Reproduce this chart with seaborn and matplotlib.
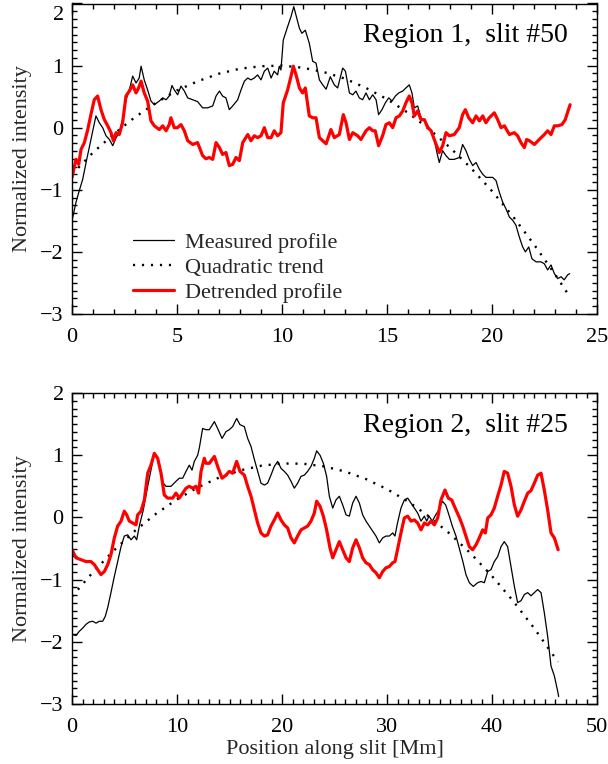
import numpy as np
import pandas as pd
import matplotlib
matplotlib.use("Agg")
import matplotlib.pyplot as plt
from matplotlib.ticker import MultipleLocator, FuncFormatter
from matplotlib.lines import Line2D
import seaborn as sns

# ---------------- data ----------------
# Region 1, slit #50
r1_meas_x = [0.0, 0.19, 0.35, 0.51, 0.67, 0.84, 1.0, 1.14, 1.3, 1.46, 1.62, 1.78, 1.94, 2.1, 2.25, 2.41, 2.57, 2.73,
             2.89, 3.05, 3.2, 3.29, 3.44, 3.6, 3.76, 3.92, 4.16, 4.32, 4.48, 4.63, 4.76, 4.87, 5.03, 5.19, 5.35, 5.51,
             5.75, 5.98, 6.22, 6.46, 6.7, 6.86, 7.02, 7.17, 7.33, 7.49, 7.65, 7.89, 8.05, 8.21, 8.37, 8.52, 8.68, 8.84,
             9.0, 9.16, 9.32, 9.48, 9.63, 9.79, 9.87, 9.95, 10.06, 10.27, 10.43, 10.56, 10.67, 10.83, 10.95, 11.11,
             11.3, 11.46, 11.62, 11.78, 11.94, 12.1, 12.3, 12.49, 12.65, 12.89, 13.02, 13.21, 13.37, 13.52, 13.68,
             13.84, 14.0, 14.16, 14.32, 14.48, 14.6, 14.76, 14.92, 15.08, 15.24, 15.4, 15.56, 15.75, 15.9, 16.06,
             16.19, 16.3, 16.46, 16.62, 16.86, 17.1, 17.25, 17.41, 17.49, 17.65, 17.81, 17.97, 18.2, 18.44, 18.6,
             18.76, 18.92, 19.08, 19.24, 19.4, 19.56, 19.71, 19.87, 20.03, 20.19, 20.35, 20.51, 20.67, 20.83, 20.98,
             21.14, 21.3, 21.46, 21.59, 21.75, 21.9, 22.1, 22.33, 22.49, 22.65, 22.81, 22.97, 23.13, 23.29, 23.44,
             23.6, 23.7]
r1_meas_y = [-1.5, -1.2, -1.01, -0.83, -0.56, -0.29, -0.03, 0.19, 0.08, 0.0, -0.13, -0.19, -0.29, -0.16, -0.08, 0.13,
             0.45, 0.61, 0.83, 0.72, 0.8, 0.99, 0.77, 0.61, 0.43, 0.37, 0.43, 0.48, 0.45, 0.51, 0.68, 0.61, 0.53, 0.67,
             0.59, 0.48, 0.45, 0.42, 0.32, 0.32, 0.35, 0.51, 0.59, 0.51, 0.48, 0.29, 0.35, 0.45, 0.61, 0.75, 0.8, 0.77,
             0.8, 0.85, 0.77, 0.91, 0.96, 0.8, 0.91, 0.85, 0.99, 0.93, 1.41, 1.63, 1.79, 1.95, 1.81, 1.6, 1.52, 1.57,
             1.36, 1.07, 1.04, 0.77, 0.69, 0.62, 0.82, 0.69, 0.64, 0.96, 0.91, 0.56, 0.53, 0.59, 0.48, 0.45, 0.56,
             0.45, 0.53, 0.45, 0.21, 0.29, 0.4, 0.48, 0.43, 0.51, 0.56, 0.59, 0.64, 0.69, 0.56, 0.32, 0.35, 0.16,
             0.08, -0.05, -0.19, -0.45, -0.56, -0.37, -0.45, -0.51, -0.51, -0.48, -0.27, -0.37, -0.51, -0.61, -0.56,
             -0.67, -0.75, -0.8, -0.8, -0.8, -0.85, -1.04, -1.2, -1.31, -1.44, -1.49, -1.57, -1.76, -1.92, -2.0,
             -1.92, -2.11, -2.16, -2.16, -2.19, -2.29, -2.21, -2.35, -2.43, -2.4, -2.45, -2.37, -2.35]

r1_trend_x = [0, 1, 2, 3, 4, 5, 6, 7, 8, 9, 10, 11, 12, 13, 14, 15, 16, 17, 18, 19, 20, 21, 22, 23, 23.7]
r1_trend_y = [-0.75, -0.40, -0.10, 0.17, 0.40, 0.60, 0.75, 0.87, 0.95, 0.99, 1.0, 0.965, 0.895, 0.79, 0.64,
              0.46, 0.24, -0.02, -0.32, -0.65, -1.02, -1.43, -1.88, -2.36, -2.72]

r1_detr_x = [0.0, 0.19, 0.32, 0.43, 0.59, 0.75, 0.9, 1.06, 1.22, 1.38, 1.54, 1.7, 1.86, 1.97, 2.1, 2.25, 2.41, 2.57,
             2.73, 2.89, 3.05, 3.17, 3.29, 3.44, 3.6, 3.76, 3.92, 4.16, 4.32, 4.48, 4.63, 4.71, 4.87, 5.02, 5.19, 5.35,
             5.51, 5.75, 5.98, 6.22, 6.38, 6.54, 6.7, 6.86, 7.02, 7.17, 7.33, 7.49, 7.65, 7.81, 7.97, 8.13, 8.37,
             8.52, 8.68, 8.84, 9.0, 9.16, 9.32, 9.48, 9.63, 9.79, 9.95, 10.06, 10.27, 10.43, 10.54, 10.67, 10.83,
             10.98, 11.11, 11.3, 11.46, 11.62, 11.78, 11.94, 12.1, 12.33, 12.49, 12.73, 12.92, 13.05, 13.21, 13.37,
             13.6, 13.76, 14.0, 14.16, 14.32, 14.44, 14.6, 14.79, 14.95, 15.11, 15.27, 15.43, 15.59, 15.75, 15.9,
             16.06, 16.19, 16.3, 16.46, 16.62, 16.78, 16.94, 17.1, 17.25, 17.49, 17.65, 17.81, 17.97, 18.2, 18.44,
             18.6, 18.73, 18.89, 19.08, 19.24, 19.4, 19.56, 19.71, 19.87, 20.11, 20.27, 20.43, 20.59, 20.83, 21.06,
             21.22, 21.38, 21.54, 21.65, 21.78, 22.02, 22.25, 22.49, 22.65, 22.81, 22.97, 23.13, 23.33, 23.49,
             23.62, 23.72]
r1_detr_y = [-0.8, -0.51, -0.59, -0.35, -0.24, -0.03, 0.21, 0.45, 0.51, 0.29, 0.13, 0.03, -0.08, -0.21, -0.08,
             -0.11, 0.08, 0.51, 0.59, 0.69, 0.56, 0.64, 0.75, 0.56, 0.43, 0.11, 0.03, -0.03, 0.03, -0.05, 0.05, 0.16,
             0.0, 0.0, 0.05, -0.05, -0.21, -0.27, -0.24, -0.45, -0.5, -0.48, -0.51, -0.24, -0.32, -0.43, -0.4, -0.61,
             -0.59, -0.48, -0.53, -0.24, -0.11, -0.21, -0.13, -0.16, -0.13, 0.0, -0.16, -0.16, -0.05, -0.13, -0.08,
             0.4, 0.61, 0.83, 0.99, 0.85, 0.64, 0.56, 0.64, 0.19, 0.16, 0.16, -0.16, -0.21, -0.26, -0.03, -0.16,
             -0.11, 0.21, 0.08, -0.19, -0.08, -0.13, -0.19, -0.05, 0.0, -0.05, -0.05, -0.29, -0.13, 0.05, 0.08, 0.0,
             0.16, 0.19, 0.27, 0.4, 0.51, 0.4, 0.19, 0.27, 0.13, 0.13, 0.0, -0.05, -0.19, -0.4, -0.29, -0.08, -0.13,
             -0.11, 0.0, 0.21, 0.29, 0.16, 0.08, 0.19, 0.11, 0.19, 0.08, 0.16, 0.24, 0.13, 0.0, 0.03, -0.11, -0.08,
             -0.13, -0.24, -0.32, -0.19, -0.21, -0.27, -0.19, -0.11, -0.05, -0.11, 0.03, 0.03, 0.05, 0.13, 0.27,
             0.37]

# Region 2, slit #25
r2_meas_x = [0.0, 0.38, 0.7, 1.02, 1.33, 1.65, 1.97, 2.29, 2.6, 2.92, 3.17, 3.4, 3.71, 4.03, 4.35, 4.67, 4.98, 5.3,
             5.62, 5.94, 6.16, 6.41, 6.79, 7.21, 7.52, 7.84, 8.16, 8.48, 8.7, 8.95, 9.43, 9.9, 10.22, 10.54, 10.86,
             11.17, 11.43, 11.65, 11.97, 12.13, 12.44, 12.76, 13.08, 13.56, 13.87, 14.29, 14.67, 14.98, 15.3, 15.68,
             16.0, 16.41, 16.73, 17.05, 17.37, 17.68, 18.0, 18.32, 18.63, 18.95, 19.27, 19.59, 19.9, 20.22, 20.54,
             20.86, 21.17, 21.49, 21.81, 22.13, 22.44, 22.76, 23.08, 23.3, 23.62, 23.94, 24.25, 24.51, 24.83, 25.14,
             25.46, 25.78, 26.1, 26.41, 26.73, 27.05, 27.37, 27.68, 28.0, 28.32, 28.63, 28.95, 29.27, 29.59, 29.9,
             30.22, 30.54, 30.76, 31.0, 31.33, 31.65, 31.97, 32.29, 32.6, 32.92, 33.24, 33.56, 33.78, 34.0, 34.32,
             34.63, 34.95, 35.27, 35.59, 35.9, 36.22, 36.57, 36.89, 37.21, 37.52, 37.84, 38.22, 38.63, 38.95, 39.27,
             39.59, 39.9, 40.22, 40.54, 40.86, 41.17, 41.49, 41.81, 42.13, 42.44, 42.76, 43.08, 43.4, 43.71, 44.03,
             44.35, 44.67, 44.98, 45.3, 45.62, 45.94, 46.25, 46.35]
r2_meas_y = [-1.88, -1.9, -1.83, -1.78, -1.72, -1.68, -1.67, -1.7, -1.67, -1.67, -1.59, -1.45, -1.21, -0.95, -0.71,
             -0.47, -0.3, -0.28, -0.36, -0.3, -0.36, -0.14, 0.12, 0.5, 0.76, 1.03, 0.95, 0.71, 0.55, 0.5, 0.5, 0.58,
             0.63, 0.63, 0.74, 0.84, 0.76, 0.9, 1.0, 1.12, 1.43, 1.41, 1.41, 1.54, 1.43, 1.27, 1.38, 1.41, 1.46, 1.59,
             1.49, 1.46, 1.27, 1.14, 0.93, 0.74, 0.55, 0.52, 0.55, 0.68, 0.82, 0.9, 0.79, 0.74, 0.68, 0.58, 0.47,
             0.55, 0.66, 0.68, 0.74, 0.82, 0.95, 1.07, 1.0, 0.87, 0.66, 0.34, 0.15, 0.28, 0.34, 0.2, 0.04, 0.02,
             0.23, 0.34, 0.23, 0.04, -0.06, -0.14, -0.22, -0.3, -0.41, -0.33, -0.3, -0.3, -0.25, -0.3, -0.09, 0.15,
             0.28, 0.31, 0.23, 0.15, 0.07, -0.06, 0.02, -0.06, 0.02, -0.06, 0.04, 0.12, 0.26, 0.2, 0.04, -0.14, -0.3,
             -0.5, -0.7, -0.92, -1.05, -1.11, -1.05, -1.03, -1.05, -0.87, -0.84, -0.71, -0.63, -0.47, -0.39, -0.47,
             -0.79, -1.11, -1.37, -1.34, -1.24, -1.21, -1.26, -1.21, -1.16, -1.21, -1.53, -1.91, -2.39, -2.55, -2.79,
             -2.88]

r2_trend_x = [0, 2, 4, 6, 8, 10, 12, 14, 16, 18, 20, 22, 24, 26, 28, 30, 32, 34, 36, 38, 40, 42, 44, 46, 46.3]
r2_trend_y = [-1.27, -0.88, -0.53, -0.215, 0.058, 0.29, 0.485, 0.64, 0.755, 0.83, 0.867, 0.863, 0.82, 0.738,
              0.616, 0.455, 0.255, 0.015, -0.265, -0.584, -0.943, -1.341, -1.778, -2.255, -2.32]

r2_detr_x = [0.0, 0.38, 0.86, 1.33, 1.81, 2.13, 2.44, 2.76, 3.08, 3.4, 3.71, 4.03, 4.35, 4.67, 4.98, 5.21, 5.46,
             5.78, 6.1, 6.25, 6.57, 6.89, 7.21, 7.52, 7.84, 8.16, 8.48, 8.79, 9.11, 9.59, 9.9, 10.22, 10.54, 10.86,
             11.17, 11.49, 11.81, 12.06, 12.29, 12.6, 12.76, 13.08, 13.56, 13.87, 14.29, 14.67, 14.98, 15.3, 15.68,
             16.0, 16.41, 16.73, 17.05, 17.37, 17.68, 18.0, 18.32, 18.63, 18.95, 19.27, 19.59, 19.9, 20.22, 20.54,
             20.86, 21.17, 21.49, 21.81, 22.13, 22.44, 22.76, 23.08, 23.3, 23.62, 23.94, 24.25, 24.57, 24.83, 25.14,
             25.46, 25.78, 26.1, 26.41, 26.73, 27.05, 27.37, 27.68, 28.0, 28.32, 28.63, 28.95, 29.27, 29.59, 29.9,
             30.22, 30.54, 30.76, 31.0, 31.33, 31.65, 31.97, 32.29, 32.6, 32.92, 33.24, 33.56, 33.87, 34.19, 34.51,
             34.83, 35.14, 35.52, 35.84, 36.16, 36.57, 36.89, 37.21, 37.52, 37.84, 38.16, 38.48, 38.79, 39.11,
             39.37, 39.59, 39.9, 40.22, 40.54, 40.86, 41.17, 41.49, 41.81, 42.13, 42.44, 42.76, 43.08, 43.4, 43.71,
             44.03, 44.35, 44.67, 44.98, 45.3, 45.62, 45.94, 46.3]
r2_detr_y = [-0.52, -0.65, -0.68, -0.71, -0.71, -0.76, -0.84, -0.92, -0.87, -0.76, -0.6, -0.33, -0.14, -0.06, 0.1,
             0.04, -0.06, -0.09, -0.12, 0.04, 0.1, 0.28, 0.71, 0.84, 1.03, 0.95, 0.71, 0.36, 0.31, 0.31, 0.39, 0.31,
             0.39, 0.47, 0.5, 0.47, 0.5, 0.39, 0.74, 0.95, 0.87, 0.87, 0.98, 0.82, 0.63, 0.68, 0.74, 0.71, 0.9, 0.74,
             0.68, 0.5, 0.34, 0.12, -0.09, -0.25, -0.3, -0.28, -0.14, -0.04, 0.07, -0.04, -0.12, -0.17, -0.33, -0.41,
             -0.3, -0.2, -0.17, -0.14, -0.06, 0.07, 0.26, 0.18, 0.02, -0.2, -0.49, -0.65, -0.52, -0.39, -0.52, -0.65,
             -0.71, -0.49, -0.36, -0.49, -0.65, -0.73, -0.76, -0.84, -0.89, -0.97, -0.87, -0.81, -0.79, -0.73, -0.71,
             -0.52, -0.25, -0.01, 0.02, -0.06, -0.04, -0.09, -0.2, -0.09, -0.12, -0.06, -0.12, -0.01, 0.28, 0.44,
             0.31, 0.28, 0.12, 0.0, -0.14, -0.3, -0.47, -0.52, -0.44, -0.33, -0.2, -0.25, -0.01, 0.04, 0.15, 0.34,
             0.52, 0.74, 0.71, 0.5, 0.2, 0.02, 0.12, 0.26, 0.39, 0.43, 0.55, 0.68, 0.71, 0.44, 0.12, -0.25, -0.33,
             -0.52]

panel_titles = ["Region 1,  slit #50", "Region 2,  slit #25"]
legend_labels = ["Measured profile", "Quadratic trend", "Detrended profile"]
x_label = "Position along slit [Mm]"
y_label = "Normalized intensity"

# ---------------- style ----------------
sns.set_theme(style="ticks")
plt.rcParams["font.family"] = ["Liberation Serif", "DejaVu Serif"]
plt.rcParams["axes.unicode_minus"] = True
plt.rcParams["axes.linewidth"] = 1.0
plt.rcParams["axes.edgecolor"] = "black"

FS = 16
fig = plt.figure(figsize=(6.08, 7.64), dpi=100)
W, H = 608.0, 764.0
ax1 = fig.add_axes([72 / W, 1 - 314 / H, 525 / W, 310.5 / H])
ax2 = fig.add_axes([72 / W, 1 - 704 / H, 525 / W, 311 / H])

panels = [
    (ax1, r1_meas_x, r1_meas_y, r1_trend_x, r1_trend_y, r1_detr_x, r1_detr_y, 25, 5, 1),
    (ax2, r2_meas_x, r2_meas_y, r2_trend_x, r2_trend_y, r2_detr_x, r2_detr_y, 50, 10, 1),
]


def ylab_fmt(hide_top):
    def f(v, pos):
        if hide_top and abs(v - 2.0) < 1e-9:
            return ""
        iv = int(round(v))
        return "\u2212%d" % (-iv) if iv < 0 else "%d" % iv
    return FuncFormatter(f)


for i, (ax, mx, my, tx, ty, dx, dy, xmax, xmaj, xmin) in enumerate(panels):
    dfm = pd.DataFrame({"x": mx, "y": my})
    dft = pd.DataFrame({"x": tx, "y": ty})
    dfd = pd.DataFrame({"x": dx, "y": dy})
    sns.lineplot(data=dfm, x="x", y="y", ax=ax, color="black", lw=0.9, estimator=None, sort=False)
    sns.lineplot(data=dft, x="x", y="y", ax=ax, color="black", lw=1.7, estimator=None, sort=False,
                 dashes=False)
    ax.lines[-1].set_dashes([0.9, 2.9])
    sns.lineplot(data=dfd, x="x", y="y", ax=ax, color="#ff0000", lw=2.3, estimator=None, sort=False)

    ax.set_xlim(0, xmax)
    ax.set_ylim(-3.0, 2.0)
    ax.xaxis.set_major_locator(MultipleLocator(xmaj))
    ax.xaxis.set_minor_locator(MultipleLocator(xmin))
    ax.yaxis.set_major_locator(MultipleLocator(1))
    ax.yaxis.set_minor_locator(MultipleLocator(0.125))
    ax.yaxis.set_major_formatter(ylab_fmt(i == 0))
    ax.tick_params(which="both", direction="in", top=True, right=True, bottom=True, left=True,
                   width=1.0, color="black", labelsize=FS, labelcolor="black")
    ax.tick_params(which="major", length=7.5)
    ax.tick_params(which="minor", length=3.8)
    ax.tick_params(axis="x", which="major", pad=10)
    ax.tick_params(axis="y", which="major", pad=6)
    ax.set_ylabel(y_label, fontsize=FS, labelpad=6)
    ax.set_xlabel("")
    for s in ax.spines.values():
        s.set_visible(True)
        s.set_color("black")
        s.set_linewidth(1.0)
    ax.text(0.945, 0.897, panel_titles[i], transform=ax.transAxes, ha="right", va="center",
            fontsize=20, color="black")

# the top "2" label of the upper panel sits just below the frame top, as in the reference
ax1.annotate("2", xy=(0, 2.0), xycoords=("axes fraction", "data"), xytext=(-6, -1.5),
             textcoords="offset points", ha="right", va="top", fontsize=FS, color="black",
             annotation_clip=False)

ax2.set_xlabel(x_label, fontsize=FS, labelpad=2)

handles = [
    Line2D([], [], color="black", lw=0.9),
    Line2D([], [], color="black", lw=1.7, dashes=[0.9, 2.9]),
    Line2D([], [], color="#ff0000", lw=2.3),
]
ax1.legend(handles, legend_labels, loc="lower left", bbox_to_anchor=(0.108, 0.022), frameon=False,
           fontsize=FS, handlelength=1.85, handletextpad=0.5, labelspacing=0.2, borderpad=0.2,
           borderaxespad=0.0)

fig.savefig("out.png", dpi=100, facecolor="white")
